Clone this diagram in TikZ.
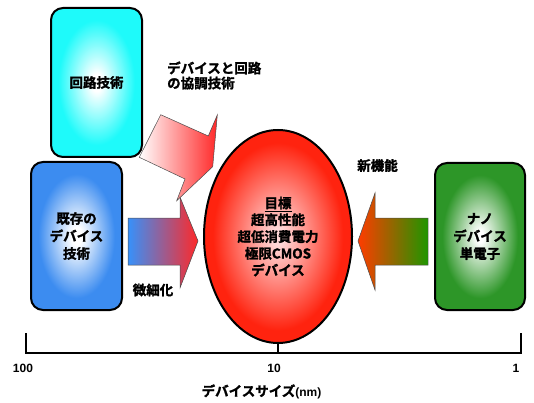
\documentclass[tikz,border=0pt]{standalone}
\usepackage{fontspec}
\setmainfont{Noto Sans CJK JP}
\newfontfamily\jpb{Noto Sans CJK JP Bold}[FakeBold=1.6]
\newfontfamily\lat{Liberation Sans}
\usetikzlibrary{shapes.geometric}
\definecolor{cyanE}{RGB}{30,250,250}
\definecolor{blueE}{RGB}{60,140,240}
\definecolor{greenE}{RGB}{45,150,40}
\definecolor{redE}{RGB}{255,35,15}
\definecolor{pinkC}{RGB}{255,215,215}
\definecolor{arrBlue}{RGB}{55,145,250}
\definecolor{arrRed}{RGB}{255,40,40}
\definecolor{arrOrange}{RGB}{255,60,0}
\definecolor{arrGreen}{RGB}{30,150,0}
\pgfdeclareradialshading{glowcyan}{\pgfpoint{0bp}{0bp}}{color(0bp)=(white); color(3bp)=(white); color(21bp)=(cyanE); color(50bp)=(cyanE)}
\pgfdeclareradialshading{glowblue}{\pgfpoint{0bp}{0bp}}{color(0bp)=(white); color(3bp)=(white); color(21bp)=(blueE); color(50bp)=(blueE)}
\pgfdeclareradialshading{glowgreen}{\pgfpoint{0bp}{0bp}}{color(0bp)=(white); color(2bp)=(white); color(21bp)=(greenE); color(50bp)=(greenE)}
\pgfdeclareradialshading{glowred}{\pgfpoint{0bp}{0bp}}{color(0bp)=(pinkC); color(2bp)=(pinkC); color(22bp)=(redE); color(50bp)=(redE)}
\tikzset{
  techbox/.style={draw=black, line width=2pt, rounded corners=12pt, inner sep=0pt,
    align=center, font=\jpb\fontsize{13.5}{17.5}\selectfont},
  blockarrow/.style={draw=black!70, line width=0.5pt},
  lbl/.style={font=\jpb\fontsize{13.5}{15}\selectfont, inner sep=0pt},
  numlbl/.style={font=\lat\bfseries\fontsize{12}{14}\selectfont, inner sep=0pt},
}
\begin{document}
\begin{tikzpicture}[x=1pt,y=-1pt]
\useasboundingbox (0,0) rectangle (534,403);
% boxes
\node[techbox, shading=glowcyan, minimum width=91pt, minimum height=149pt] (circ) at (96.5,82.5) {回路技術};
\node[techbox, shading=glowblue, minimum width=91pt, minimum height=148pt] (exist) at (76.5,236) {既存の\\デバイス\\技術};
\node[techbox, shading=glowgreen, minimum width=90pt, minimum height=147pt] (nano) at (480,236.5) {ナノ\\デバイス\\単電子};
% target ellipse
\node[ellipse, draw=black, line width=2pt, shading=glowred, minimum width=148pt, minimum height=213pt, inner sep=0pt,
  align=center, font=\jpb\fontsize{13.5}{16.8}\selectfont] (goal) at (278,236.5)
  {\underline{目標}\\超高性能\\超低消費電力\\極限CMOS\\デバイス};
% diagonal arrow (circuit -> goal)
\path[blockarrow, left color=white, right color=arrRed]
  (160.7,114.7) -- (208.3,136) -- (217.3,115) -- (212.7,166.7) -- (176.7,200.7)
  -- (185,179) -- (139.3,157.3) -- cycle;
% horizontal arrow (existing -> goal)
\path[blockarrow, left color=arrBlue, right color=arrRed]
  (128,218) -- (180,218) -- (180,197) -- (198,241) -- (180,288) -- (180,265) -- (128,265) -- cycle;
% horizontal arrow (nano -> goal)
\path[blockarrow, left color=arrOrange, right color=arrGreen]
  (428,218) -- (375,218) -- (375,193) -- (358,241) -- (375,290) -- (375,265) -- (428,265) -- cycle;
% labels
\node[lbl, align=left, anchor=west] (coop) at (167,75.5) {デバイスと回路\\の協調技術};
\node[lbl] (newf) at (377.5,165.5) {新機能};
\node[lbl] (mini) at (153,290) {微細化};
% axis
\coordinate (axL) at (26,353);
\coordinate (axR) at (521,353);
\draw[line width=2.5pt] (26,333) -- (axL) -- (axR) -- (521,333);
\draw[line width=2.5pt] (goal.south) -- (goal.south |- axL);
\node[numlbl] (n100) at (23,368) {100};
\node[numlbl] (n10) at (274,368) {10};
\node[numlbl] (n1) at (516,368) {1};
\node[lbl] (xlab) at (261.5,391.5) {デバイスサイズ{\lat\bfseries\fontsize{12}{14}\selectfont(nm)}};
\end{tikzpicture}
\end{document}
